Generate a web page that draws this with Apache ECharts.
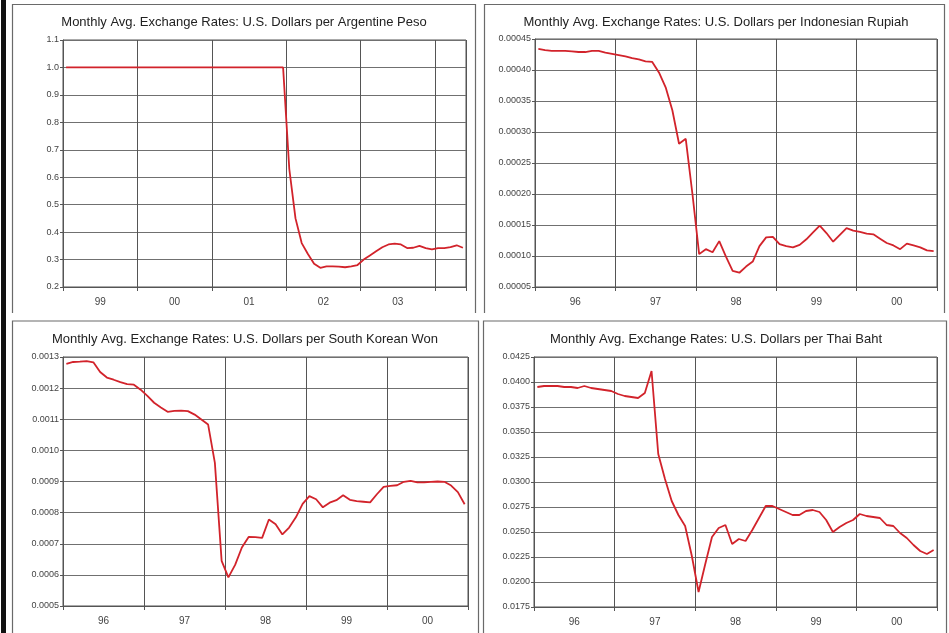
<!DOCTYPE html>
<html>
<head>
<meta charset="utf-8">
<script src="https://cdn.jsdelivr.net/npm/echarts@6/dist/echarts.min.js"></script>
<style>
html,body{margin:0;padding:0;background:#fff;}
#chart{width:949px;height:633px;}
</style>
</head>
<body>
<div id="chart"></div>
<script>
// ---- Data (monthly averages) ----
const titles = [
  'Monthly Avg. Exchange Rates: U.S. Dollars per Argentine Peso',
  'Monthly Avg. Exchange Rates: U.S. Dollars per Indonesian Rupiah',
  'Monthly Avg. Exchange Rates: U.S. Dollars per South Korean Won',
  'Monthly Avg. Exchange Rates: U.S. Dollars per Thai Baht'
];
const argYears = ['99', '00', '01', '02', '03'];
const asiaYears = ['96', '97', '98', '99', '00'];

// Jan 1999 - May 2004
const argValues = [
  1.0,1.0,1.0,1.0,1.0,1.0,1.0,1.0,1.0,1.0,1.0,1.0,
  1.0,1.0,1.0,1.0,1.0,1.0,1.0,1.0,1.0,1.0,1.0,1.0,
  1.0,1.0,1.0,1.0,1.0,1.0,1.0,1.0,1.0,1.0,1.0,1.0,
  0.63,0.45,0.36,0.32,0.285,0.27,0.275,0.275,0.274,0.272,0.275,0.28,
  0.30,0.315,0.33,0.345,0.355,0.358,0.355,0.342,0.343,0.35,0.342,0.337,
  0.342,0.342,0.345,0.352,0.343
];
// Jan 1996 - Dec 2000
const indoValues = [
  0.000434,0.000432,0.000431,0.000431,0.000431,0.000430,0.000429,0.000429,0.000431,0.000431,0.000428,0.000426,
  0.000424,0.000422,0.000419,0.000417,0.000414,0.000413,0.000396,0.000372,0.000335,0.000281,0.000289,0.000200,
  0.000103,0.000111,0.000106,0.000124,0.000099,0.000076,0.000073,0.000083,0.000091,0.000116,0.000130,0.000131,
  0.000119,0.000116,0.000114,0.000118,0.000127,0.000138,0.000149,0.000137,0.000123,0.000134,0.000145,0.000141,
  0.000139,0.000136,0.000135,0.000128,0.000121,0.000117,0.000111,0.000120,0.000117,0.000114,0.000109,0.000108
];
const koreaValues = [
  0.001278,0.001284,0.001285,0.001287,0.001283,0.001252,0.001234,0.001227,0.001219,0.001213,0.001211,0.001195,
  0.001175,0.001153,0.001138,0.001124,0.001127,0.001128,0.001126,0.001115,0.001099,0.001083,0.000960,0.000645,
  0.000592,0.000632,0.000688,0.000722,0.000721,0.000719,0.000778,0.000763,0.000730,0.000752,0.000785,0.000828,
  0.000853,0.000843,0.000817,0.000832,0.000840,0.000856,0.000841,0.000837,0.000835,0.000833,0.000859,0.000883,
  0.000886,0.000888,0.000899,0.000902,0.000897,0.000897,0.000899,0.000900,0.000899,0.000887,0.000866,0.000827
];
const thaiValues = [
  0.0395,0.0396,0.0396,0.0396,0.0395,0.0395,0.0394,0.0396,0.0394,0.0393,0.0392,0.0391,
  0.0388,0.0386,0.0385,0.0384,0.0389,0.0411,0.0328,0.0303,0.0281,0.0267,0.0256,0.0226,
  0.0190,0.0218,0.0245,0.0254,0.0257,0.0238,0.0243,0.0241,0.0252,0.0264,0.0276,0.0276,
  0.0273,0.0270,0.0267,0.0267,0.0271,0.0272,0.0270,0.0262,0.0250,0.0255,0.0259,0.0262,
  0.0268,0.0266,0.0265,0.0264,0.0257,0.0256,0.0249,0.0244,0.0237,0.0231,0.0228,0.0232
];
const yRanges = [
  {min: 0.2, max: 1.1, interval: 0.1, dec: 1},
  {min: 0.00005, max: 0.00045, interval: 0.00005, dec: 5},
  {min: 0.0005, max: 0.0013, interval: 0.0001, dec: 4},
  {min: 0.0175, max: 0.0425, interval: 0.0025, dec: 4}
];

// ---- Layout ----
const FONT = '"Liberation Sans", Arial, sans-serif';
const grids = [
  {left: 63, top: 40, width: 403, height: 247},
  {left: 535, top: 39, width: 402, height: 248},
  {left: 63, top: 357, width: 405, height: 249},
  {left: 534, top: 357, width: 403, height: 250}
];
const titleCenters = [[244, 16], [716, 16], [245, 333], [716, 333]];
const seriesData = [argValues, indoValues, koreaValues, thaiValues];
const yearLabels = [argYears, asiaYears, asiaYears, asiaYears];

const gridColor = '#555';
const hGridColor = '#707070';
const labelColor = '#444';

const xAxes = [], yAxes = [], series = [], titleOpts = [];
seriesData.forEach((vals, g) => {
  const n = vals.length;
  const years = yearLabels[g];
  xAxes.push({
    gridIndex: g, type: 'value', position: 'bottom', min: 0, max: n, interval: 12,
    axisLine: {show: true, lineStyle: {color: gridColor}},
    axisTick: {show: true, length: 4, lineStyle: {color: gridColor}},
    axisLabel: {show: false},
    splitLine: {show: true, lineStyle: {color: gridColor, width: 1}}
  });
  xAxes.push({
    gridIndex: g, type: 'value', position: 'bottom', offset: 0, min: 0, max: n, interval: 6,
    axisLine: {show: false}, axisTick: {show: false}, splitLine: {show: false},
    axisLabel: {
      show: true, fontSize: 10, color: labelColor, fontFamily: FONT, margin: 10,
      showMinLabel: true, showMaxLabel: true,
      formatter: v => (v % 12 === 6 ? (years[(v - 6) / 12] || '') : '')
    }
  });
  const yr = yRanges[g];
  yAxes.push({
    gridIndex: g, type: 'value', min: yr.min, max: yr.max, interval: yr.interval,
    axisLine: {show: true, lineStyle: {color: gridColor}},
    axisTick: {show: true, length: 3, lineStyle: {color: gridColor}},
    axisLabel: {fontSize: 9, color: labelColor, fontFamily: FONT, margin: 4,
      formatter: v => v.toFixed(yr.dec)},
    splitLine: {show: true, lineStyle: {color: hGridColor, width: 1}}
  });
  series.push({
    type: 'line', xAxisIndex: g * 2, yAxisIndex: g,
    data: vals.map((v, i) => [i + 0.5, v]),
    symbol: 'none', smooth: false,
    lineStyle: {color: '#d2232b', width: 1.8},
    silent: true, animation: false
  });
  titleOpts.push({
    text: titles[g], left: titleCenters[g][0], top: titleCenters[g][1],
    textAlign: 'center', padding: 0,
    textStyle: {fontSize: 13, fontWeight: 'normal', color: '#222', fontFamily: FONT}
  });
});

const frameStyle = {stroke: '#6a6a6a', fill: 'none', lineWidth: 1.2};
const option = {
  backgroundColor: '#fff',
  animation: false,
  title: titleOpts,
  grid: grids.map(gd => Object.assign({show: true, borderColor: gridColor, borderWidth: 1, containLabel: false}, gd)),
  xAxis: xAxes,
  yAxis: yAxes,
  series: series,
  graphic: [
    {type: 'rect', shape: {x: 1, y: 0, width: 5, height: 633}, style: {fill: '#111'}, silent: true},
    {type: 'polyline', shape: {points: [[12.5, 313], [12.5, 4.5], [475.5, 4.5], [475.5, 313]]}, style: frameStyle, silent: true},
    {type: 'polyline', shape: {points: [[484.5, 313], [484.5, 4.5], [944.5, 4.5], [944.5, 313]]}, style: frameStyle, silent: true},
    {type: 'rect', shape: {x: 12.5, y: 321, width: 466, height: 330}, style: frameStyle, silent: true},
    {type: 'rect', shape: {x: 483.5, y: 321, width: 463, height: 330}, style: frameStyle, silent: true}
  ]
};

const chart = echarts.init(document.getElementById('chart'), null, {renderer: 'canvas'});
chart.setOption(option);
</script>
</body>
</html>
